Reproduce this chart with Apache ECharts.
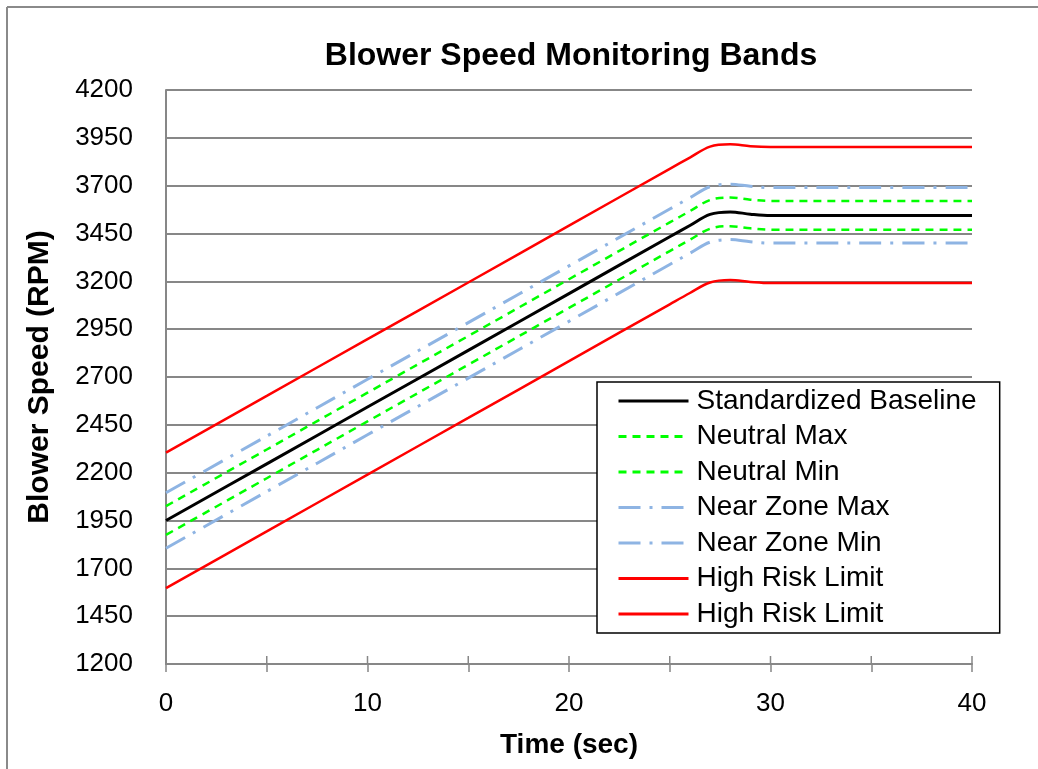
<!DOCTYPE html>
<html>
<head>
<meta charset="utf-8">
<script src="https://cdn.jsdelivr.net/npm/echarts@6/dist/echarts.min.js"></script>
<style>
  html, body { margin: 0; padding: 0; background: #fff; }
  #chart { width: 1038px; height: 769px; }
</style>
</head>
<body>
<div id="chart"></div>
<script>
// time points (sec)
const times = [0, 5, 10, 15, 20, 25, 26, 27, 28, 29, 30, 35, 40];

// values (RPM)
const baseline    = [1950, 2246, 2543, 2839, 3136, 3433, 3492, 3550, 3563, 3551, 3544, 3544, 3544];
const neutralMax  = [2025, 2321, 2618, 2914, 3211, 3508, 3567, 3625, 3638, 3627, 3620, 3620, 3620];
const neutralMin  = [1875, 2171, 2468, 2764, 3061, 3358, 3417, 3475, 3488, 3477, 3470, 3470, 3470];
const nearMax     = [2095, 2391, 2688, 2984, 3281, 3578, 3637, 3695, 3708, 3697, 3690, 3690, 3690];
const nearMin     = [1805, 2101, 2398, 2694, 2991, 3288, 3347, 3405, 3418, 3407, 3400, 3400, 3400];
const riskUpper   = [2305, 2601, 2898, 3194, 3491, 3788, 3847, 3904, 3916, 3906, 3902, 3902, 3902];
const riskLower   = [1597, 1893, 2190, 2486, 2783, 3080, 3139, 3194, 3207, 3197, 3191, 3191, 3191];

const xTicks = [0, 5, 10, 15, 20, 25, 30, 35, 40];

const font = 'Liberation Sans, Arial, sans-serif';
const axisGray = '#878787';

function pairs(vals) {
  return times.map((t, i) => [t, vals[i]]);
}

function lineSeries(name, vals, color, width, type) {
  return {
    name: name,
    type: 'line',
    data: pairs(vals),
    smooth: 0.35,
    showSymbol: false,
    symbol: 'none',
    lineStyle: { color: color, width: width, type: type || 'solid', cap: 'butt' },
    itemStyle: { color: color },
    emphasis: { disabled: true },
    silent: true
  };
}

const chart = echarts.init(document.getElementById('chart'));

const option = {
  animation: false,
  backgroundColor: '#fff',
  title: {
    text: 'Blower Speed Monitoring Bands',
    left: 566,
    textAlign: 'center',
    top: 35,
    textStyle: { fontFamily: font, fontSize: 32, fontWeight: 'bold', color: '#000' }
  },
  grid: { left: 166, right: 66, top: 90, bottom: 105 },
  legend: {
    orient: 'vertical',
    left: 597,
    top: 382,
    padding: [5, 23, 5, 20],
    backgroundColor: '#fff',
    borderColor: '#000',
    borderWidth: 1.5,
    itemWidth: 70,
    itemHeight: 14,
    itemGap: 7.5,
    itemStyle: { opacity: 0 },
    lineStyle: { width: 3 },
    textStyle: { fontFamily: font, fontSize: 28, color: '#000', padding: [0, 0, 0, 3] },
    data: ['Standardized Baseline', 'Neutral Max', 'Neutral Min', 'Near Zone Max', 'Near Zone Min', 'High Risk Limit', 'High Risk Limit ']
  },
  xAxis: {
    type: 'value',
    min: 0,
    max: 40,
    interval: 5,
    name: 'Time (sec)',
    nameLocation: 'middle',
    nameGap: 67,
    nameTextStyle: { fontFamily: font, fontSize: 28, fontWeight: 'bold', color: '#000' },
    axisLine: { show: true, lineStyle: { color: axisGray, width: 2 } },
    axisTick: { show: true, length: 8, inside: false, lineStyle: { color: axisGray, width: 1.5 } },
    axisLabel: {
      fontFamily: font, fontSize: 26, color: '#000', margin: 27,
      formatter: v => (v % 10 === 0 ? String(v) : '')
    },
    splitLine: { show: false }
  },
  yAxis: {
    type: 'value',
    min: 1200,
    max: 4200,
    interval: 250,
    name: 'Blower Speed (RPM)',
    nameLocation: 'middle',
    nameGap: 111,
    nameRotate: 90,
    nameTextStyle: { fontFamily: font, fontSize: 30, fontWeight: 'bold', color: '#000' },
    axisLine: { show: true, lineStyle: { color: axisGray, width: 2 } },
    axisTick: { show: false },
    axisLabel: { fontFamily: font, fontSize: 26, color: '#000', margin: 33, formatter: v => String(v) },
    splitLine: { show: true, lineStyle: { color: axisGray, width: 2 } }
  },
  graphic: [
    { type: 'line', shape: { x1: 7, y1: 7, x2: 1038, y2: 7 }, style: { stroke: '#8a8a8a', lineWidth: 2 }, z: 10 },
    { type: 'line', shape: { x1: 7, y1: 7, x2: 7, y2: 769 }, style: { stroke: '#8a8a8a', lineWidth: 2 }, z: 10 }
  ],
  series: [
    lineSeries('High Risk Limit', riskUpper, '#ff0000', 2.5),
    lineSeries('High Risk Limit ', riskLower, '#ff0000', 2.5),
    lineSeries('Near Zone Max', nearMax, '#8eb4e3', 3, [22, 9, 3, 9]),
    lineSeries('Near Zone Min', nearMin, '#8eb4e3', 3, [22, 9, 3, 9]),
    lineSeries('Neutral Max', neutralMax, '#00ff00', 2.5, [8, 6]),
    lineSeries('Neutral Min', neutralMin, '#00ff00', 2.5, [8, 6]),
    lineSeries('Standardized Baseline', baseline, '#000000', 3)
  ]
};

chart.setOption(option);

// tick marks above the x axis line too (ticks cross the axis in the reference)
chart.setOption({
  graphic: option.graphic.concat(xTicks.map(t => {
    const p = chart.convertToPixel({ gridIndex: 0 }, [t, 1200]);
    return {
      type: 'line',
      shape: { x1: p[0], y1: p[1] - 8, x2: p[0], y2: p[1] },
      style: { stroke: axisGray, lineWidth: 1.5 },
      z: 10
    };
  }))
});
</script>
</body>
</html>
